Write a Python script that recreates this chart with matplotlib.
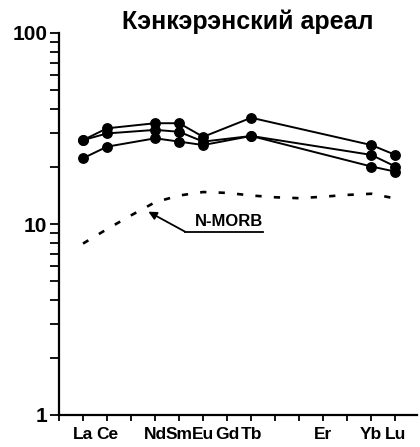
import matplotlib
matplotlib.use("Agg")
import matplotlib.pyplot as plt
from matplotlib import ticker

plt.rcParams['font.family'] = ['Liberation Sans', 'DejaVu Sans']
plt.rcParams['lines.scale_dashes'] = False

# Rare earth elements along the x axis
ree = ['La', 'Ce', 'Pr', 'Nd', 'Sm', 'Eu', 'Gd', 'Tb', 'Dy', 'Ho', 'Er', 'Tm', 'Yb', 'Lu']
labeled = ['La', 'Ce', 'Nd', 'Sm', 'Eu', 'Gd', 'Tb', 'Er', 'Yb', 'Lu']

# Elements analysed in the samples and chondrite-normalised contents
measured = ['La', 'Ce', 'Nd', 'Sm', 'Eu', 'Tb', 'Yb', 'Lu']
sample_1 = [27.5, 31.7, 33.7, 33.7, 28.6, 36.0, 25.9, 23.0]
sample_2 = [27.5, 29.8, 31.1, 30.4, 27.0, 28.9, 23.0, 20.0]
sample_3 = [22.1, 25.4, 28.1, 27.0, 25.9, 28.9, 20.0, 18.8]

# N-MORB reference pattern
nmorb = [7.9, 9.4, 11.1, 13.0, 14.1, 14.7, 14.55, 14.1, 13.8, 13.65, 13.9, 14.2, 14.4, 13.6]

title = 'Кэнкэрэнский ареал'
nmorb_label = 'N-MORB'

pos = {el: i + 1 for i, el in enumerate(ree)}

fig = plt.figure(figsize=(4.2, 4.47), dpi=100)
ax = fig.add_axes([59 / 420, 32 / 447, 358 / 420, 382 / 447])

for s in (sample_1, sample_2, sample_3):
    ax.plot([pos[e] for e in measured], s, color='black', lw=1.4,
            marker='o', ms=6.8, mfc='black', mec='black', zorder=3, clip_on=False)

ax.plot([pos[e] for e in ree], nmorb, color='black', lw=1.9,
        dashes=(4.5, 8.8), dash_capstyle='butt')

# Label with leader arrow and underline
tx0, tx1, ty = 5.25, 8.5, 9.11
ax.annotate('', xy=(3.72, 11.6), xytext=(tx0, ty),
            arrowprops=dict(arrowstyle='-|>', color='black', lw=1.3,
                            mutation_scale=12, shrinkA=0, shrinkB=0))
ax.plot([tx0, tx1], [ty, ty], color='black', lw=1.3)
ax.text(tx1, 10.35, nmorb_label, ha='right', va='center', fontsize=12,
        fontweight='bold')

ax.set_yscale('log')
ax.set_ylim(1, 100)
ax.set_xlim(0, 14.9)
ax.yaxis.set_major_locator(ticker.FixedLocator([1, 10, 100]))
ax.yaxis.set_major_formatter(ticker.FixedFormatter(['1', '10', '100']))
ax.yaxis.set_minor_locator(ticker.LogLocator(base=10, subs=range(2, 10)))
ax.yaxis.set_minor_formatter(ticker.NullFormatter())

ax.set_xticks(range(0, len(ree) + 1))
ax.set_xticklabels([''] + [el if el in labeled else '' for el in ree])

for side in ('top', 'right'):
    ax.spines[side].set_visible(False)
for side in ('left', 'bottom'):
    ax.spines[side].set_linewidth(1.6)

ax.tick_params(axis='y', which='both', direction='out', length=6.5, width=1.3,
               labelsize=15, pad=2)
ax.tick_params(axis='x', which='major', direction='out', length=4.5, width=1.3,
               labelsize=12.5, pad=4)
for lab in ax.get_xticklabels() + ax.get_yticklabels():
    lab.set_fontweight('bold')

fig.text(248 / 420, 1 - 22 / 447, title, ha='center', va='center', fontsize=18,
         fontweight='bold')

fig.savefig('out.png', dpi=100)
